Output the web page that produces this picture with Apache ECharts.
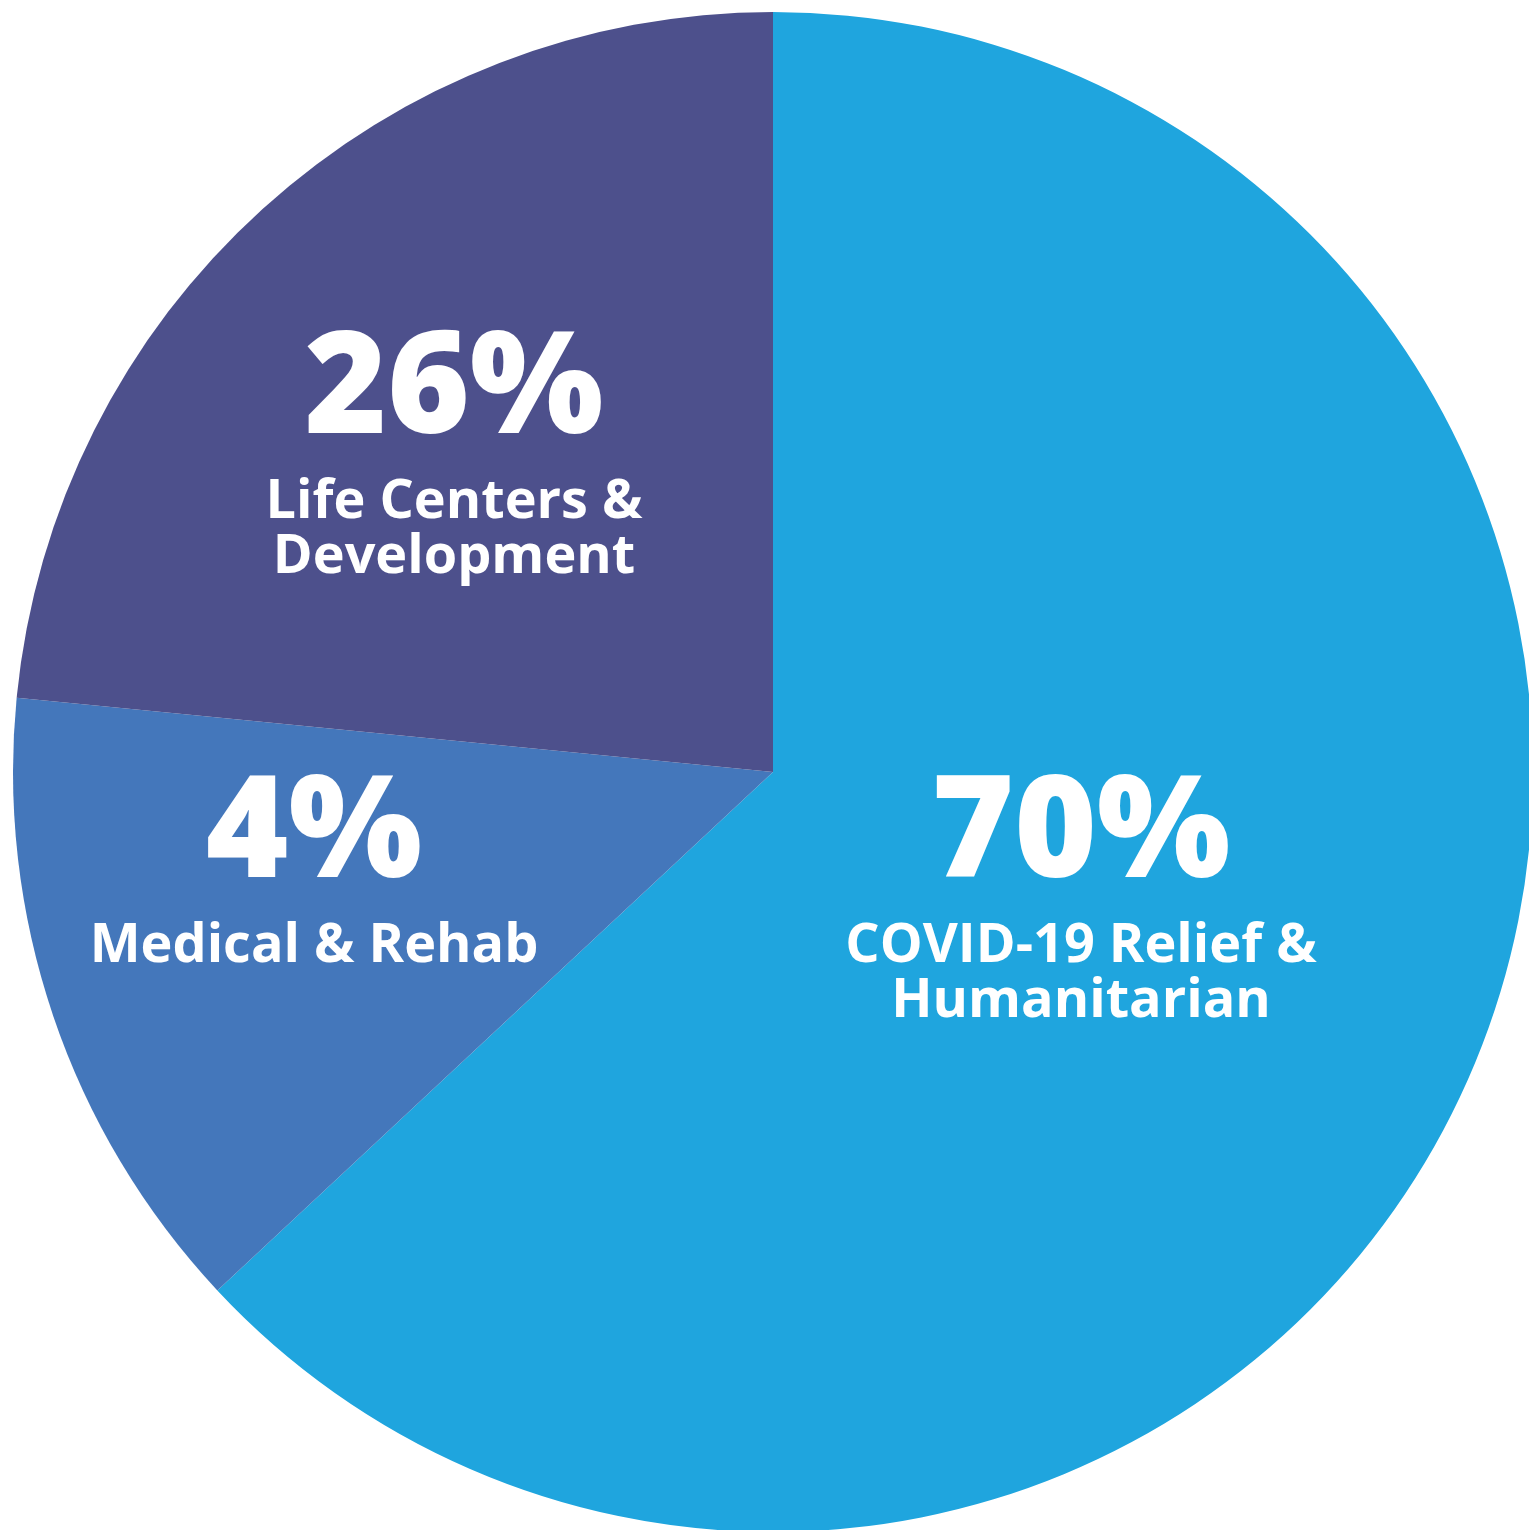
<!DOCTYPE html>
<html>
<head>
<meta charset="utf-8">
<script src="https://cdn.jsdelivr.net/npm/echarts@6/dist/echarts.min.js"></script>
<style>
html,body{margin:0;padding:0;background:#fff;}
#chart{width:1529px;height:1530px;}
</style>
</head>
<body>
<div id="chart"></div>
<script>
// Data (slice sizes as drawn in the picture; printed percentages as labelled)
var categories = ['COVID-19 Relief &\nHumanitarian', 'Medical & Rehab', 'Life Centers &\nDevelopment'];
var sliceValues = [63.05, 13.51, 23.44];
var percentLabels = ['70%', '4%', '26%'];
var colors = ['#1FA5DE', '#4477BB', '#4D508C'];

// Label block placement (layout only)
var labelPos = [[1081, 754], [314, 754], [454, 310]];

var chart = echarts.init(document.getElementById('chart'));
chart.setOption({
  animation: false,
  series: [{
    type: 'pie',
    center: [773, 772],
    radius: 760,
    startAngle: 90,
    clockwise: true,
    silent: true,
    emphasis: {disabled: true},
    itemStyle: {borderWidth: 0},
    label: {
      show: true,
      position: 'inside',
      color: '#fff',
      align: 'center',
      formatter: function (p) {
        return '{p|' + percentLabels[p.dataIndex] + '}\n{n|' + p.name + '}';
      },
      rich: {
        p: {fontFamily: 'Open Sans', fontWeight: 800, fontSize: 141, lineHeight: 165, color: '#fff', align: 'center'},
        n: {fontFamily: 'Open Sans', fontWeight: 700, fontSize: 54, lineHeight: 55, color: '#fff', align: 'center'}
      }
    },
    labelLine: {show: false},
    labelLayout: function (params) {
      var pos = labelPos[params.dataIndex];
      return {x: pos[0], y: pos[1], align: 'center', verticalAlign: 'top'};
    },
    data: categories.map(function (c, i) {
      return {name: c, value: sliceValues[i], itemStyle: {color: colors[i]}};
    })
  }]
});
</script>
</body>
</html>
